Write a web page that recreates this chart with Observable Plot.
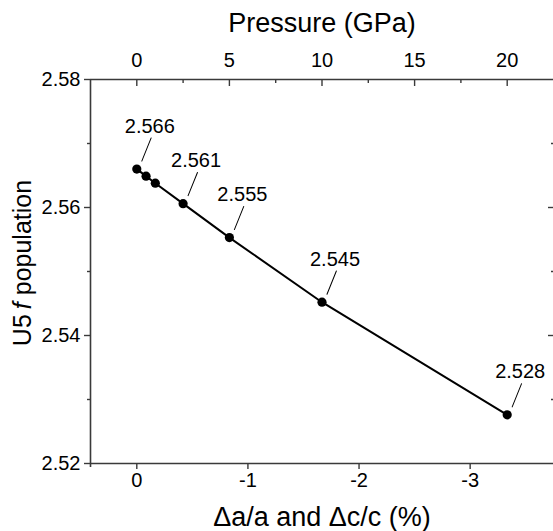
<!DOCTYPE html>
<html><head><meta charset="utf-8">
<script src="https://cdn.jsdelivr.net/npm/d3@7"></script>
<script src="https://cdn.jsdelivr.net/npm/@observablehq/plot@0.6"></script>
<style>
html,body{margin:0;padding:0;background:#fff;overflow:hidden;}
</style></head>
<body><div id="chart"></div>
<script>
// Data
const pressure = [0, 0.5, 1, 2.5, 5, 10, 20];               // GPa (top axis)
const population = [2.566, 2.5649, 2.5638, 2.5606, 2.5553, 2.5452, 2.5276];
const pointLabels = ["2.566", "", "", "2.561", "2.555", "2.545", "2.528"];
const pressureTicks = [0, 5, 10, 15, 20];
const pressureMinorTicks = [2.5, 7.5, 12.5, 17.5];
const strainTicks = [0, -1, -2, -3];                          // Δa/a and Δc/c (%)
const gpaPerPercent = -6;                                     // top/bottom axis relation
const xDomain = [-2.5, 22.5];
const yDomain = [2.52, 2.58];
const yTicks = [2.52, 2.54, 2.56, 2.58];
const yMinorTicks = [2.53, 2.55, 2.57];
const yRightMajor = [2.54, 2.56];
const xTitle = "Δa/a and Δc/c (%)";
const topTitle = "Pressure (GPa)";
const yTitle = "U5f population";

const data = pressure.map((p, i) => ({p, v: population[i], label: pointLabels[i]}));
const labeled = data.filter(d => d.label);
const axisColor = "#3a3a3a";
const leaderShape = {draw(context, l) { context.moveTo(0, 0); context.lineTo(0, -l); }};

let leaderMark;
try {
  leaderMark = Plot.vector(labeled, {x: "p", y: "v", dx: 5, dy: -8, length: 25, rotate: 22, anchor: "start", shape: leaderShape, stroke: "#000", strokeWidth: 1});
} catch (e) {
  leaderMark = Plot.vector(labeled, {x: "p", y: "v", dx: 5, dy: -8, length: 25, rotate: 22, anchor: "start", shape: "spike", r: 0.3, stroke: "#000", strokeWidth: 1});
}

const plot = Plot.plot({
  width: 553, height: 531,
  marginLeft: 90, marginRight: 0, marginTop: 79, marginBottom: 68,
  style: {fontFamily: "'Liberation Sans', Arial, Helvetica, sans-serif", fontSize: "20px", color: "#000", background: "#fff", overflow: "visible"},
  x: {domain: xDomain, axis: null},
  y: {domain: yDomain, axis: null},
  marks: [
    // frame: left, top, bottom (right edge falls outside the picture)
    Plot.ruleY(yDomain, {stroke: axisColor, strokeWidth: 1.6}),
    Plot.ruleX([xDomain[0]], {stroke: axisColor, strokeWidth: 1.6, insetBottom: -4}),
    // left axis
    Plot.axisY(yTicks, {anchor: "left", tickSize: 6, tickPadding: 4, tickFormat: d3.format(".2f"), label: null, stroke: axisColor, strokeWidth: 1.4, fill: "#000"}),
    Plot.axisY(yMinorTicks, {anchor: "left", tickSize: 3, tickFormat: () => "", label: null, stroke: axisColor, strokeWidth: 1.4}),
    // right axis (inward)
    Plot.axisY(yRightMajor, {anchor: "right", tickSize: -6, tickFormat: () => "", label: null, stroke: axisColor, strokeWidth: 1.4}),
    Plot.axisY(yMinorTicks, {anchor: "right", tickSize: -3, tickFormat: () => "", label: null, stroke: axisColor, strokeWidth: 1.4}),
    // top axis: pressure (inward ticks)
    Plot.axisX(pressureTicks, {anchor: "top", tickSize: -6, tickPadding: 18.5, tickFormat: d => String(d), label: null, stroke: axisColor, strokeWidth: 1.4, fill: "#000"}),
    Plot.axisX(pressureMinorTicks, {anchor: "top", tickSize: -3, tickFormat: () => "", label: null, stroke: axisColor, strokeWidth: 1.4}),
    // bottom axis: strain
    Plot.axisX(strainTicks.map(s => s * gpaPerPercent), {anchor: "bottom", tickSize: 6, tickPadding: 3, tickFormat: p => String(p / gpaPerPercent), label: null, stroke: axisColor, strokeWidth: 1.4, fill: "#000"}),
    // titles
    Plot.text([topTitle], {frameAnchor: "top", dy: -56, fontSize: 27, lineAnchor: "middle", fill: "#000"}),
    Plot.text([xTitle], {frameAnchor: "bottom", dy: 53.5, fontSize: 27, lineAnchor: "middle", fill: "#000"}),
    Plot.text([yTitle], {frameAnchor: "left", dx: -67.5, dy: -8.5, rotate: -90, fontSize: 25, textAnchor: "middle", lineAnchor: "middle", fill: "#000"}),
    // data
    Plot.line(data, {x: "p", y: "v", stroke: "#000", strokeWidth: 2}),
    Plot.dot(data, {x: "p", y: "v", r: 4.6, fill: "#000", stroke: "none"}),
    leaderMark,
    Plot.text(labeled, {x: "p", y: "v", text: "label", dx: 13, dy: -42.8, fontSize: 20, lineAnchor: "middle", fill: "#000"})
  ]
});
document.getElementById("chart").appendChild(plot);

// italic "f" in the y title
plot.querySelectorAll("text").forEach(t => {
  if (t.textContent === yTitle) {
    t.textContent = "";
    const ns = "http://www.w3.org/2000/svg";
    const a = document.createElementNS(ns, "tspan"); a.textContent = "U5\u2009";
    const b = document.createElementNS(ns, "tspan"); b.textContent = "f"; b.setAttribute("font-style", "italic");
    const c = document.createElementNS(ns, "tspan"); c.textContent = " population";
    t.append(a, b, c);
  }
});
</script>
</body></html>
